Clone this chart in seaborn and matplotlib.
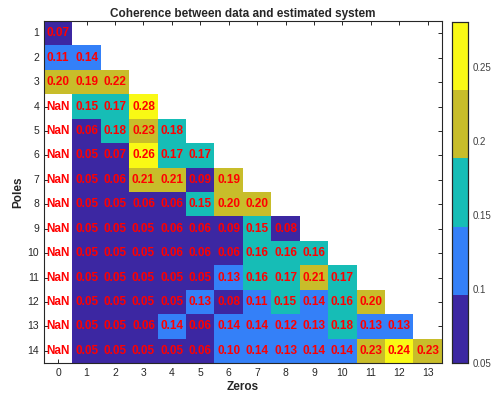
import numpy as np
import pandas as pd
import matplotlib
matplotlib.use("Agg")
import matplotlib.pyplot as plt
from matplotlib.colors import ListedColormap
import seaborn as sns

# Coherence per model order: row = number of poles, column = number of zeros.
# None marks an order whose coherence came out as NaN.
poles = list(range(1, 15))
zeros = list(range(0, 14))
coherence_rows = [
    [0.07],
    [0.11, 0.14],
    [0.20, 0.19, 0.22],
    [None, 0.15, 0.17, 0.28],
    [None, 0.06, 0.18, 0.23, 0.18],
    [None, 0.05, 0.07, 0.26, 0.17, 0.17],
    [None, 0.05, 0.06, 0.21, 0.21, 0.09, 0.19],
    [None, 0.05, 0.05, 0.06, 0.06, 0.15, 0.20, 0.20],
    [None, 0.05, 0.05, 0.05, 0.06, 0.06, 0.09, 0.15, 0.08],
    [None, 0.05, 0.05, 0.05, 0.06, 0.06, 0.06, 0.16, 0.16, 0.16],
    [None, 0.05, 0.05, 0.05, 0.05, 0.05, 0.13, 0.16, 0.17, 0.21, 0.17],
    [None, 0.05, 0.05, 0.05, 0.05, 0.13, 0.08, 0.11, 0.15, 0.14, 0.16, 0.20],
    [None, 0.05, 0.05, 0.06, 0.14, 0.06, 0.14, 0.14, 0.12, 0.13, 0.18, 0.13, 0.13],
    [None, 0.05, 0.05, 0.05, 0.05, 0.06, 0.10, 0.14, 0.13, 0.14, 0.14, 0.23, 0.24, 0.23],
]
cbar_ticks = [0.05, 0.1, 0.15, 0.2, 0.25]
cbar_ticklabels = ["0.05", "0.1", "0.15", "0.2", "0.25"]
level_colors = ["#3c27a2", "#3480f8", "#16bdb6", "#c8bd2a", "#f9f915"]

# Build the full grid; cells outside the triangle stay empty.
grid = np.full((len(poles), len(zeros)), np.nan)
labels = np.full((len(poles), len(zeros)), "", dtype=object)
nan_cells = []
for i, row in enumerate(coherence_rows):
    for j, v in enumerate(row):
        if v is None:
            nan_cells.append((i, j))
        else:
            grid[i, j] = v
            labels[i, j] = f"{v:.2f}"

df = pd.DataFrame(grid, index=poles, columns=zeros)

sns.set_style("white")
plt.rcParams["font.family"] = ["Liberation Sans", "DejaVu Sans"]

fig = plt.figure(figsize=(4.92, 3.97), dpi=100)
ax = fig.add_axes([0.0894, 0.0856, 0.8086, 0.8614])
cax = fig.add_axes([0.919, 0.0856, 0.0325, 0.8589])

cmap = ListedColormap(level_colors)
sns.heatmap(
    df, ax=ax, cbar_ax=cax, cmap=cmap, vmin=0.05, vmax=0.28,
    annot=labels, fmt="",
    annot_kws=dict(color="red", fontsize=8.5, fontweight="bold"),
    cbar_kws=dict(ticks=cbar_ticks),
)
for i, j in nan_cells:
    ax.text(j + 0.5, i + 0.5, "NaN", color="red", fontsize=8.5,
            fontweight="bold", ha="center", va="center")

ax.set_title("Coherence between data and estimated system",
             fontsize=8.5, fontweight="bold", pad=3)
ax.set_xlabel("Zeros", fontsize=8.5, fontweight="bold", labelpad=2)
ax.set_ylabel("Poles", fontsize=8.5, fontweight="bold", labelpad=2)

ax.set_xticks(np.arange(len(zeros)) + 0.5)
ax.set_xticklabels([str(z) for z in zeros], rotation=0)
ax.set_yticks(np.arange(len(poles)) + 0.5)
ax.set_yticklabels([str(p) for p in poles], rotation=0)
ax.tick_params(direction="in", length=3, width=0.7, labelsize=7.5,
               colors="#262626", top=True, right=True, bottom=True, left=True,
               labelcolor="#262626")
for s in ax.spines.values():
    s.set_visible(True)
    s.set_color("#262626")
    s.set_linewidth(0.8)

cax.set_yticklabels(cbar_ticklabels)
cax.tick_params(direction="in", length=3, width=0.6, labelsize=7,
                colors="#404040", right=True, left=False)
for s in cax.spines.values():
    s.set_visible(True)
    s.set_color("#262626")
    s.set_linewidth(0.8)

fig.savefig("out.png", dpi=100)
